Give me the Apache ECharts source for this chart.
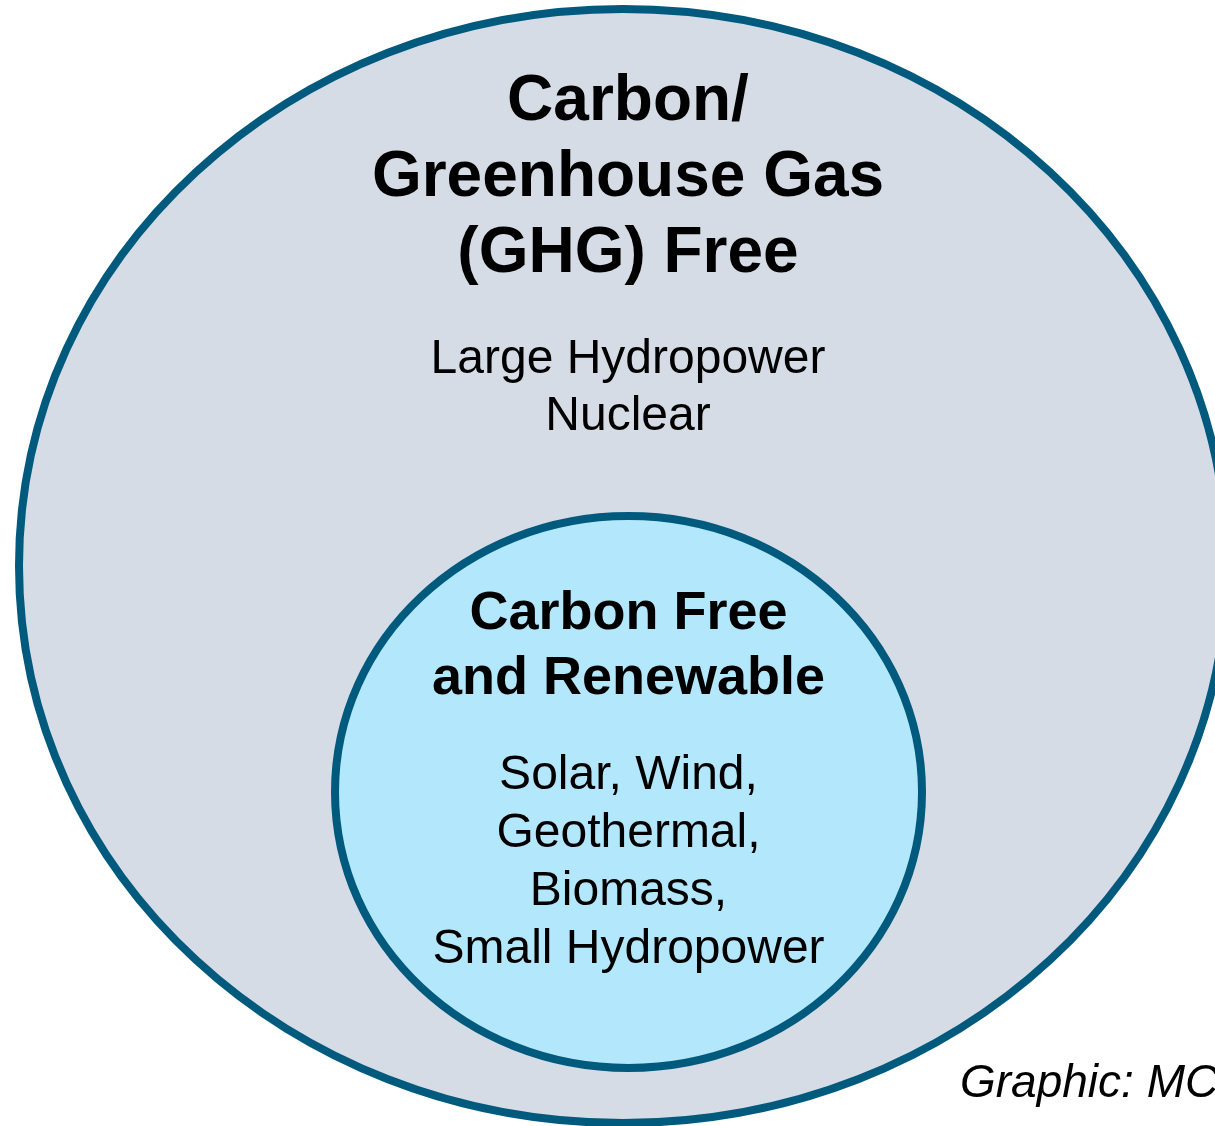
<!DOCTYPE html>
<html>
<head>
<meta charset="utf-8">
<style>
  html, body { margin: 0; padding: 0; background: #ffffff; }
  #chart { width: 1215px; height: 1126px; }
</style>
<script src="https://cdn.jsdelivr.net/npm/echarts@6/dist/echarts.min.js"></script>
</head>
<body>
<div id="chart"></div>
<script>
// ---- Data ----
const setNames = ['Carbon/\nGreenhouse Gas\n(GHG) Free', 'Carbon Free\nand Renewable'];
const setMembers = ['Large Hydropower\nNuclear', 'Solar, Wind,\nGeothermal,\nBiomass,\nSmall Hydropower'];
const centerX = [623, 628.5];
const centerY = [566, 792];
const radiusX = [604, 293.5];
const radiusY = [557, 276];
const sourceNote = 'Graphic: MCE';

// ---- Layout / style (kept separate from the data) ----
const FONT = '"Liberation Sans", Arial, Helvetica, sans-serif';
const fills = ['#d6dce5', '#b3e8fc'];
const strokeColor = '#005a7e';
const labelShiftX = [5, 0];            // px from ellipse centre
const nameOffset = [-388, -145];
const memberOffset = [-178, 71];
const nameFont = [64, 54];
const nameLine = [76, 65];
const memberFont = [48, 48];
const memberLine = [57, 58];

const seriesData = centerX.map((x, i) => [x, centerY[i], radiusX[i], radiusY[i]]);

const chart = echarts.init(document.getElementById('chart'), null, { renderer: 'canvas' });
chart.setOption({
  animation: false,
  backgroundColor: '#ffffff',
  grid: { left: 0, right: 0, top: 0, bottom: 0 },
  xAxis: { type: 'value', min: 0, max: 1215, show: false },
  yAxis: { type: 'value', min: 0, max: 1126, inverse: true, show: false },
  title: {
    text: sourceNote,
    left: 955,
    top: 1056,
    textStyle: { fontFamily: FONT, fontSize: 46, fontStyle: 'italic', fontWeight: 'normal', color: '#000000' }
  },
  series: [{
    type: 'custom',
    coordinateSystem: 'cartesian2d',
    clip: false,
    data: seriesData,
    renderItem: function (params, api) {
      const i = params.dataIndex;
      const c = api.coord([api.value(0), api.value(1)]);
      const s = api.size([api.value(2), api.value(3)]);
      return {
        type: 'group',
        children: [
          {
            type: 'ellipse',
            shape: { cx: c[0], cy: c[1], rx: s[0], ry: s[1] },
            style: { fill: fills[i], stroke: strokeColor, lineWidth: 8 }
          },
          {
            type: 'text',
            x: c[0] + labelShiftX[i],
            y: c[1] + nameOffset[i],
            style: {
              text: setNames[i],
              fontFamily: FONT,
              fontWeight: 'bold',
              fontSize: nameFont[i],
              lineHeight: nameLine[i],
              fill: '#000000',
              align: 'center',
              verticalAlign: 'middle'
            }
          },
          {
            type: 'text',
            x: c[0] + labelShiftX[i],
            y: c[1] + memberOffset[i],
            style: {
              text: setMembers[i],
              fontFamily: FONT,
              fontWeight: 'normal',
              fontSize: memberFont[i],
              lineHeight: memberLine[i],
              fill: '#000000',
              align: 'center',
              verticalAlign: 'middle'
            }
          }
        ]
      };
    }
  }]
});
</script>
</body>
</html>
